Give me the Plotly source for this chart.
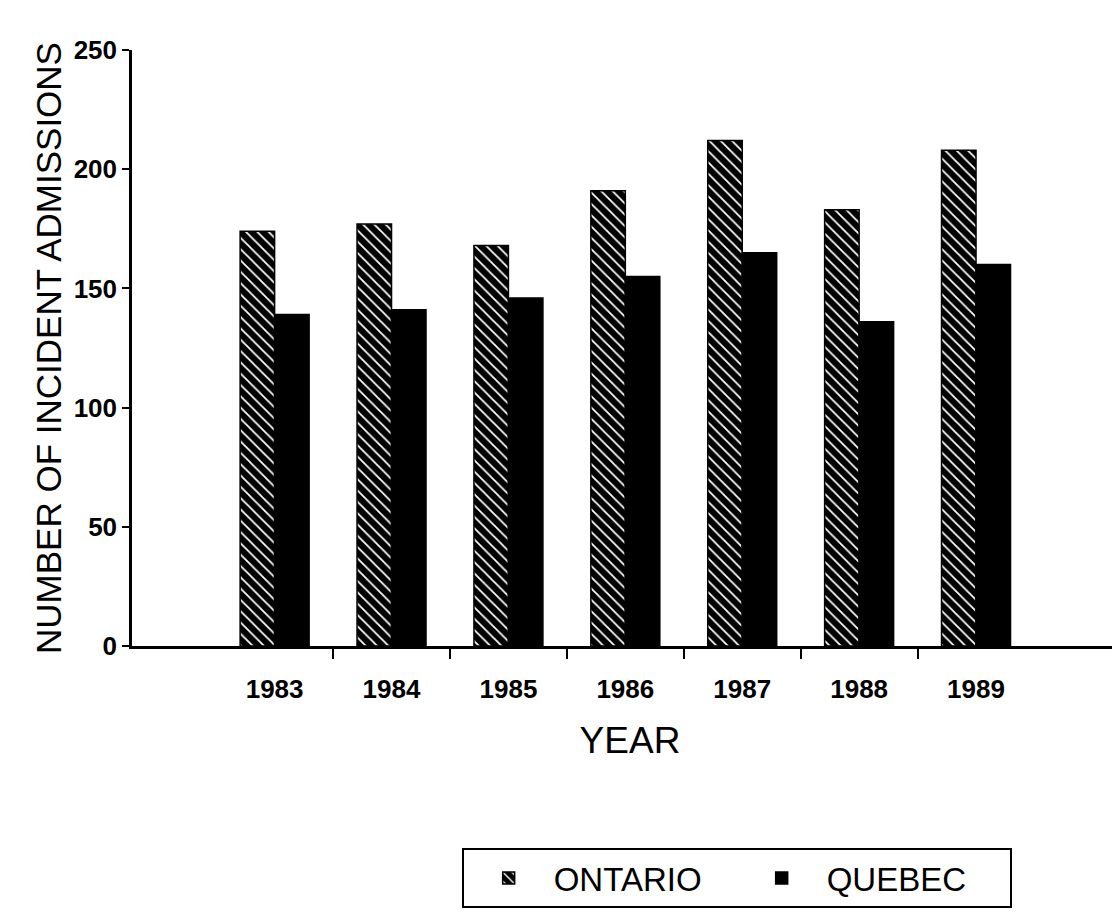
import plotly.graph_objects as go

years = ["1983", "1984", "1985", "1986", "1987", "1988", "1989"]
ontario = [174, 177, 168, 191, 212, 183, 208]
quebec = [139, 141, 146, 155, 165, 136, 160]
y_ticks = [0, 50, 100, 150, 200, 250]

xpos = list(range(len(years)))
font_main = "Liberation Sans, Arial, Helvetica, sans-serif"

fig = go.Figure()
fig.add_trace(go.Bar(
    name="ONTARIO", x=xpos, y=ontario,
    marker=dict(color="black", line=dict(color="black", width=1.5),
                pattern=dict(shape="\\", fgcolor="white", bgcolor="black",
                             size=8, solidity=0.22, fillmode="replace")),
))
fig.add_trace(go.Bar(
    name="QUEBEC", x=xpos, y=quebec,
    marker=dict(color="black", line=dict(color="black", width=1.5)),
))
# empty helper trace so the between-category tick axis is drawn
fig.add_trace(go.Scatter(x=[], y=[], xaxis="x2", yaxis="y",
                         showlegend=False, hoverinfo="skip"))

fig.update_layout(
    width=1120, height=924,
    margin=dict(l=124, r=0, t=42, b=286),
    plot_bgcolor="white", paper_bgcolor="white",
    barmode="group", bargap=0.41, bargroupgap=0,
    font=dict(family=font_main, color="black"),
    xaxis=dict(
        range=[-1.22, 7.30], automargin=False,
        tickvals=xpos, ticktext=years,
        ticks="", showline=True, linecolor="black", linewidth=2.5,
        showgrid=False, zeroline=False,
        ticklabelstandoff=18,
        tickfont=dict(family=font_main, size=26, weight="bold"),
        title=dict(text="YEAR", font=dict(family=font_main, size=37), standoff=25),
    ),
    xaxis2=dict(
        overlaying="x", anchor="y", side="bottom", automargin=False,
        range=[-1.22, 7.30],
        tickvals=[i + 0.5 for i in xpos[:-1]],
        ticks="outside", ticklen=12, tickwidth=2, tickcolor="black",
        showticklabels=False, showline=False, showgrid=False, zeroline=False,
    ),
    yaxis=dict(
        range=[0, 250], tickvals=y_ticks, automargin=False,
        ticks="outside", ticklen=7, tickwidth=2, tickcolor="black",
        showline=True, linecolor="black", linewidth=2.5,
        showgrid=False, zeroline=False,
        tickfont=dict(family=font_main, size=26, weight="bold"),
        title=dict(text="NUMBER OF INCIDENT ADMISSIONS",
                   font=dict(family=font_main, size=35), standoff=2),
    ),
    legend=dict(
        orientation="h", x=0.331, xanchor="left", y=-0.339, yanchor="top",
        bordercolor="black", borderwidth=2,
        font=dict(family=font_main, size=33),
        itemwidth=80, entrywidth=178, traceorder="normal",
    ),
)

fig.write_html("out.html")
